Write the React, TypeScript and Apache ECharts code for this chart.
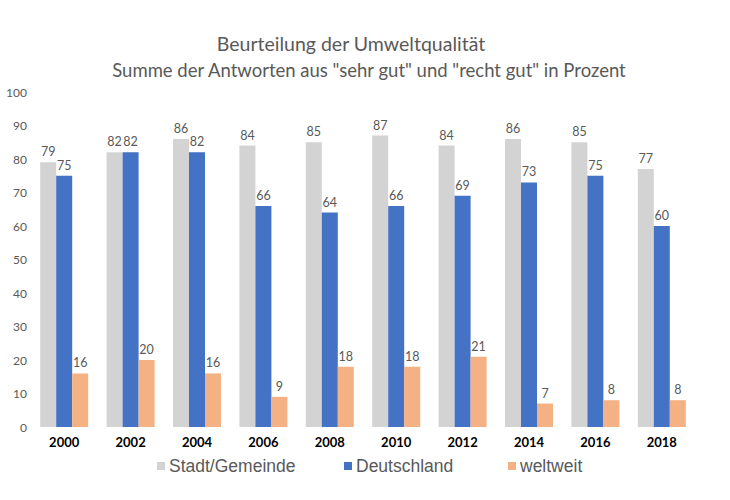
import React, { useEffect, useRef } from "react";
import * as echarts from "echarts";

const years = ["2000", "2002", "2004", "2006", "2008", "2010", "2012", "2014", "2016", "2018"];
const stadt = [79, 82, 86, 84, 85, 87, 84, 86, 85, 77];
const deutschland = [75, 82, 82, 66, 64, 66, 69, 73, 75, 60];
const weltweit = [16, 20, 16, 9, 18, 18, 21, 7, 8, 8];
const seriesNames = ["Stadt/Gemeinde", "Deutschland", "weltweit"];
const titleLines = [
  "Beurteilung der Umweltqualität",
  "Summe der Antworten aus \"sehr gut\" und \"recht gut\" in Prozent",
];
const colors = ["#d3d3d3", "#4472c4", "#f4b183"];
const legendLefts = [152, 339, 503];

export default function App() {
  const ref = useRef<HTMLDivElement>(null);
  useEffect(() => {
    if (!ref.current) return;
    const chart = echarts.init(ref.current, null, { renderer: "svg" });
    const label = {
      show: true,
      position: "top" as const,
      color: "#595959",
      fontSize: 12.5,
      fontFamily: "Lato, 'Open Sans', sans-serif",
      distance: 4,
    };
    const data = [stadt, deutschland, weltweit];
    chart.setOption({
      animation: false,
      backgroundColor: "#ffffff",
      graphic: [
        {
          type: "text",
          x: 351,
          y: 43,
          style: {
            text: titleLines[0],
            fill: "#595959",
            fontSize: 19.5,
            fontFamily: "Lato, 'Open Sans', sans-serif",
            textAlign: "center",
            textVerticalAlign: "middle",
          },
        },
        {
          type: "text",
          x: 369,
          y: 70,
          style: {
            text: titleLines[1],
            fill: "#595959",
            fontSize: 18.5,
            fontFamily: "Lato, 'Open Sans', sans-serif",
            textAlign: "center",
            textVerticalAlign: "middle",
          },
        },
      ],
      legend: seriesNames.map((name, i) => ({
        data: [name],
        left: legendLefts[i],
        top: 452,
        itemWidth: 8,
        itemHeight: 8,
        icon: "rect",
        textStyle: {
          color: "#595959",
          fontSize: 17.5,
          fontFamily: "'Liberation Sans', Arial, sans-serif",
          padding: [0, 0, 0, -1],
        },
      })),
      grid: { left: 31, right: 35, top: 92, bottom: 73, containLabel: false },
      xAxis: {
        type: "category",
        data: years,
        axisLine: { show: false },
        axisTick: { show: false },
        axisLabel: {
          color: "#000000",
          fontSize: 13,
          fontWeight: "bold",
          fontFamily: "Lato, 'Open Sans', sans-serif",
          margin: 8,
        },
      },
      yAxis: {
        type: "value",
        min: 0,
        max: 100,
        interval: 10,
        splitLine: { show: false },
        axisLine: { show: false },
        axisTick: { show: false },
        axisLabel: {
          color: "#595959",
          fontSize: 12,
          fontFamily: "Lato, 'Open Sans', sans-serif",
          margin: 4,
        },
      },
      series: seriesNames.map((name, i) => ({
        name,
        type: "bar",
        data: data[i],
        barWidth: 16,
        barGap: "0%",
        itemStyle: { color: colors[i] },
        label,
      })),
    });
    return () => chart.dispose();
  }, []);
  return (
    <div
      ref={ref}
      style={{ position: "fixed", left: 0, top: 0, width: 730, height: 500 }}
    />
  );
}
